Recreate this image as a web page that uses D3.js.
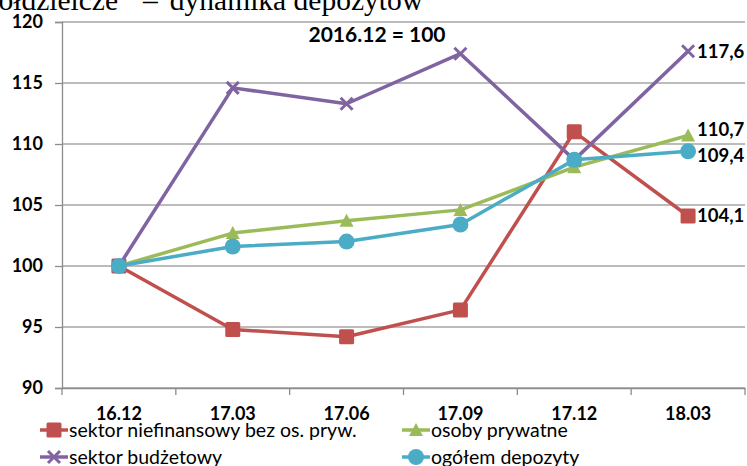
<!DOCTYPE html>
<html><head><meta charset="utf-8">
<script src="https://cdn.jsdelivr.net/npm/d3@7"></script>
<style>
html,body{margin:0;padding:0;background:#fff;}
svg{display:block;}
</style></head>
<body>
<script>
const categories = ["16.12","17.03","17.06","17.09","17.12","18.03"];
const seriesNames = ["sektor niefinansowy bez os. pryw.","osoby prywatne","sektor budżetowy","ogółem depozyty"];
const niefinansowy = [100, 94.8, 94.2, 96.4, 111.0, 104.1];
const prywatne = [100, 102.7, 103.7, 104.6, 108.1, 110.7];
const budzetowy = [100, 114.6, 113.3, 117.4, 108.7, 117.6];
const ogolem = [100, 101.6, 102.0, 103.4, 108.7, 109.4];
const yTicks = [90, 95, 100, 105, 110, 115, 120];
const endLabels = ["104,1","110,7","117,6","109,4"];
const colors = ["#c0504d","#9bbb59","#8064a2","#4bacc6"];
const markers = ["square","triangle","cross","circle"];
const seriesValues = [niefinansowy, prywatne, budzetowy, ogolem];

(function(){
const W = 747, H = 466;
const svg = d3.select("body").append("svg").attr("width", W).attr("height", H);
const mLeft = 62, mRight = 745, mTop = 22, mBottom = 388;

// clipped title line (only its lower part is visible, as in the reference)
const tf = "'Liberation Serif', serif", ts = "29.5px";
svg.append("text").attr("x", 118).attr("y", 10).attr("text-anchor","end")
  .style("font-family",tf).style("font-size",ts).text("spółdzielcze");
svg.append("text").attr("x", 143).attr("y", 10)
  .style("font-family",tf).style("font-size",ts).text("–");
svg.append("text").attr("x", 423).attr("y", 10).attr("text-anchor","end")
  .style("font-family",tf).style("font-size",ts).text("dynamika depozytów");

const x = d3.scaleBand().domain(categories).range([mLeft, mRight]);
const y = d3.scaleLinear().domain([90,120]).range([mBottom, mTop]);

svg.append("g").selectAll("line").data(yTicks).join("line")
  .attr("x1", mLeft).attr("x2", mRight).attr("y1", d=>y(d)).attr("y2", d=>y(d))
  .attr("stroke","#a6a6a6").attr("stroke-width",1.3);

const font = "Lato, 'Open Sans', sans-serif";
const yAxis = d3.axisLeft(y).tickValues(yTicks).tickSize(7).tickPadding(12);
const gy = svg.append("g").attr("transform",`translate(${mLeft},0)`).call(yAxis);
gy.select(".domain").attr("stroke","#8c8c8c").attr("stroke-width",1.3);
gy.selectAll(".tick line").attr("stroke","#8c8c8c").attr("stroke-width",1.3);
gy.selectAll("text").style("font-family",font).style("font-weight","bold").style("font-size","18px").attr("fill","#000");

const xAxis = d3.axisBottom(x).tickSize(0).tickPadding(19);
const gx = svg.append("g").attr("transform",`translate(0,${mBottom})`).call(xAxis);
gx.select(".domain").attr("stroke","#8c8c8c").attr("stroke-width",1.3);
gx.selectAll("text").style("font-family",font).style("font-weight","bold").style("font-size","18px").attr("fill","#000");
const bounds = categories.map(c=>x(c)).concat([x(categories[categories.length-1])+x.bandwidth()]);
svg.append("g").selectAll("line").data(bounds).join("line")
  .attr("x1",d=>d).attr("x2",d=>d).attr("y1",mBottom).attr("y2",mBottom+7)
  .attr("stroke","#8c8c8c").attr("stroke-width",1.3);

const cx = c => x(c) + x.bandwidth()/2;

function drawMarker(g, type, color, px, py){
  if(type==="square"){
    g.append("rect").attr("x",px-7.5).attr("y",py-7.5).attr("width",15).attr("height",15).attr("rx",1.5).attr("fill",color);
  } else if(type==="triangle"){
    g.append("path").attr("d",`M${px},${py-7}L${px+7},${py+6}L${px-7},${py+6}Z`).attr("fill",color);
  } else if(type==="circle"){
    g.append("circle").attr("cx",px).attr("cy",py).attr("r",8).attr("fill",color);
  } else {
    g.append("path").attr("d",`M${px-6},${py-6}L${px+6},${py+6}M${px+6},${py-6}L${px-6},${py+6}`)
      .attr("stroke",color).attr("stroke-width",3);
  }
}

const line = d3.line().x((d,i)=>cx(categories[i])).y(d=>y(d));
seriesValues.forEach((vals, si)=>{
  const g = svg.append("g");
  g.append("path").datum(vals).attr("d", line).attr("fill","none")
    .attr("stroke", colors[si]).attr("stroke-width",3.5).attr("stroke-linejoin","round");
  vals.forEach((v,i)=>drawMarker(g, markers[si], colors[si], cx(categories[i]), y(v)));
});

const lastCat = categories[categories.length-1];
const labelDy = [0, -6, 0, 4];
seriesValues.forEach((vals, si)=>{
  svg.append("text").attr("x", cx(lastCat)+9).attr("y", y(vals[vals.length-1]) + labelDy[si])
    .attr("dy","0.35em").style("font-family",font).style("font-weight","bold").style("font-size","18.5px")
    .text(endLabels[si]);
});

svg.append("text").attr("x", 377).attr("y", 42).attr("text-anchor","middle")
  .style("font-family",font).style("font-weight","bold").style("font-size","21px").text("2016.12 = 100");

const legPos = [[40,430],[402,430],[40,457],[402,457]];
seriesNames.forEach((n, si)=>{
  const [lx, ly] = legPos[si];
  const g = svg.append("g");
  g.append("line").attr("x1",lx).attr("x2",lx+28).attr("y1",ly).attr("y2",ly).attr("stroke",colors[si]).attr("stroke-width",3.5);
  drawMarker(g, markers[si], colors[si], lx+14, ly);
  g.append("text").attr("x", lx+29).attr("y", ly).attr("dy","0.35em")
    .style("font-family",font).style("font-size","19.5px").text(n);
});
})();
</script>
</body></html>
